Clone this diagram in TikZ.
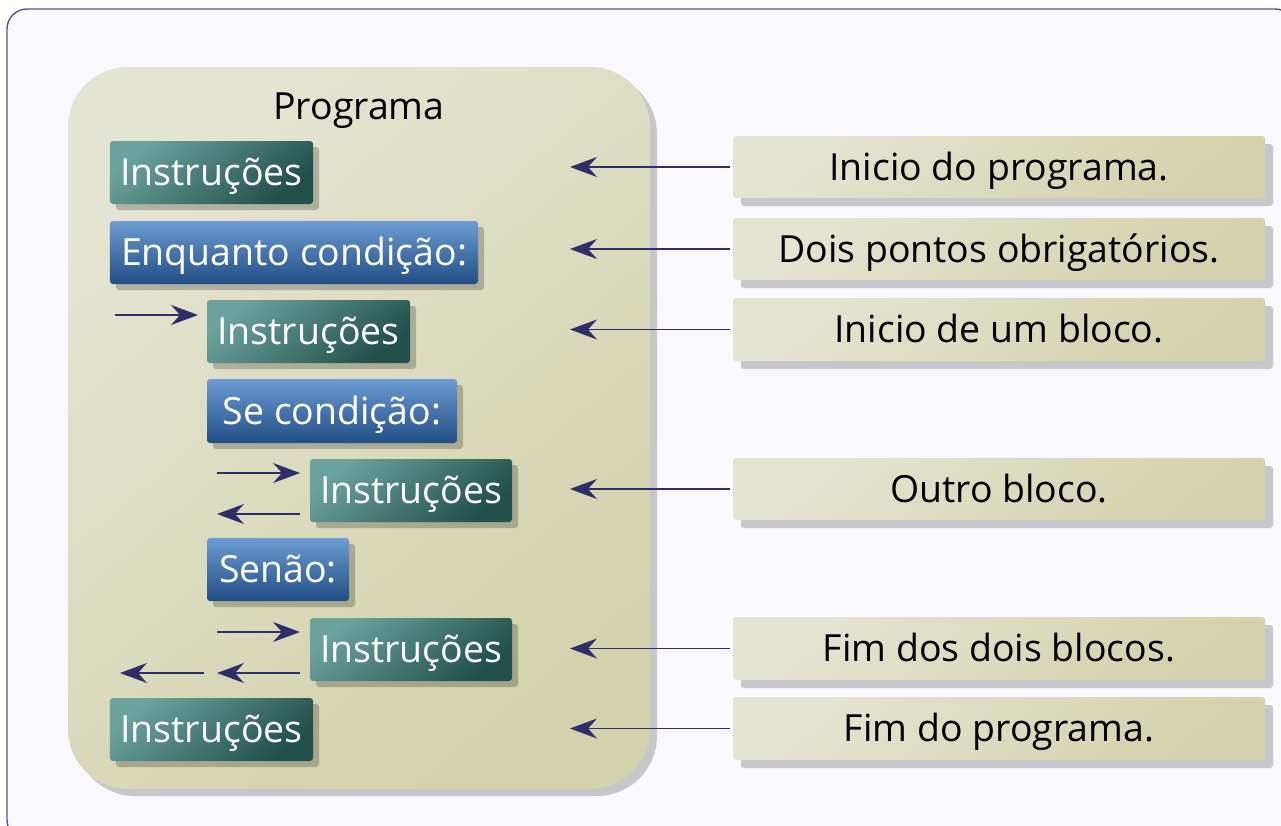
\documentclass[tikz,border=0pt]{standalone}
\usepackage{fontspec}
\setmainfont{Open Sans}
\usetikzlibrary{arrows.meta,shadows,patterns}
\definecolor{bgc}{HTML}{F8F8FE}
\definecolor{framec}{HTML}{56568A}
\definecolor{arrc}{HTML}{2E2E6A}
\definecolor{tealA}{HTML}{6CA29C}
\definecolor{tealB}{HTML}{22504A}
\definecolor{blueA}{HTML}{6C9CD2}
\definecolor{blueB}{HTML}{224E84}
\definecolor{tanA}{HTML}{E4E4D2}
\definecolor{tanB}{HTML}{D2D2AC}
\newcommand{\mybox}[7]{%
  \pgfmathsetmacro\bw{(#5-#3)*0.02}%
  \pgfmathsetmacro\bh{(#6-#4)*0.02}%
  \node[#2, minimum width=\bw cm, minimum height=\bh cm] (#1) at ({(#3+#5)/2},{(#4+#6)/2}) {#7};}
\begin{document}
\begin{tikzpicture}[x=0.02cm,y=-0.02cm,
  every node/.style={font=\fontsize{21.3}{25}\selectfont, inner sep=0pt, text height=0.52cm, text depth=0cm},
  instbox/.style={rounded corners=0.06cm, shading=axis, top color=tealA, bottom color=tealB, shading angle=40,
     text=white, drop shadow={shadow xshift=0.12cm, shadow yshift=-0.12cm, fill=black, opacity=0.22}},
  condbox/.style={instbox, top color=blueA, bottom color=blueB},
  labelbox/.style={rounded corners=0.06cm, shading=axis, top color=tanA, bottom color=tanB, shading angle=40,
     text=black, drop shadow={shadow xshift=0.16cm, shadow yshift=-0.16cm, fill=black, opacity=0.2}},
  link/.style={draw=arrc, line width=1pt, -{Stealth[length=0.54cm, width=0.4cm, inset=0.18cm]}}
]
\useasboundingbox (0,0) rectangle (1281,825);
% outer frame
\draw[framec, fill=bgc, line width=0.8pt, rounded corners=0.4cm] (7,9) rectangle (1295,840);
% panel
\fill[black, opacity=0.2, rounded corners=1.2cm] (75,74) rectangle (657,796);
\shade[rounded corners=1.2cm, shading=axis, top color=tanA, bottom color=tanB, shading angle=40] (68,67) rectangle (650,789);
\node (title) at (359,106) {Programa};
% program boxes
\mybox{i1}{instbox}{110}{141}{313}{204}{Instruções}
\mybox{w}{condbox}{110}{221}{478}{284}{Enquanto condição:}
\mybox{i2}{instbox}{207}{300}{410}{363}{Instruções}
\mybox{se}{condbox}{207}{379}{457}{443}{Se condição:}
\mybox{i3}{instbox}{310}{459}{512}{522}{Instruções}
\mybox{sn}{condbox}{207}{538}{349}{601}{Senão:}
\mybox{i4}{instbox}{310}{618}{512}{681}{Instruções}
\mybox{i5}{instbox}{110}{698}{313}{761}{Instruções}
% labels
\mybox{l1}{labelbox}{733}{136}{1265}{198}{Inicio do programa.}
\mybox{l2}{labelbox}{733}{218}{1265}{280}{Dois pontos obrigatórios.}
\mybox{l3}{labelbox}{733}{298}{1265}{361}{Inicio de um bloco.}
\mybox{l4}{labelbox}{733}{458}{1265}{520}{Outro bloco.}
\mybox{l5}{labelbox}{733}{617}{1265}{680}{Fim dos dois blocos.}
\mybox{l6}{labelbox}{733}{697}{1265}{760}{Fim do programa.}
% label arrows
\coordinate (tx) at (570,0);
\foreach \k in {1,...,6} {\draw[link] ([xshift=-0.06cm]l\k.west) -- (l\k.west -| tx);}
% indentation arrows
\coordinate (a1s) at (115,315);
\coordinate (a1e) at (198,315);
\draw[link] (a1s) -- (a1e);
\coordinate (a2s) at (217,473);
\coordinate (a2e) at (300,473);
\draw[link] (a2s) -- (a2e);
\coordinate (a3s) at (300,514);
\coordinate (a3e) at (217,514);
\draw[link] (a3s) -- (a3e);
\coordinate (a4s) at (217,632);
\coordinate (a4e) at (300,632);
\draw[link] (a4s) -- (a4e);
\coordinate (a5s) at (300,673);
\coordinate (a5e) at (217,673);
\draw[link] (a5s) -- (a5e);
\coordinate (a6s) at (204,673);
\coordinate (a6e) at (120,673);
\draw[link] (a6s) -- (a6e);
\end{tikzpicture}
\end{document}
